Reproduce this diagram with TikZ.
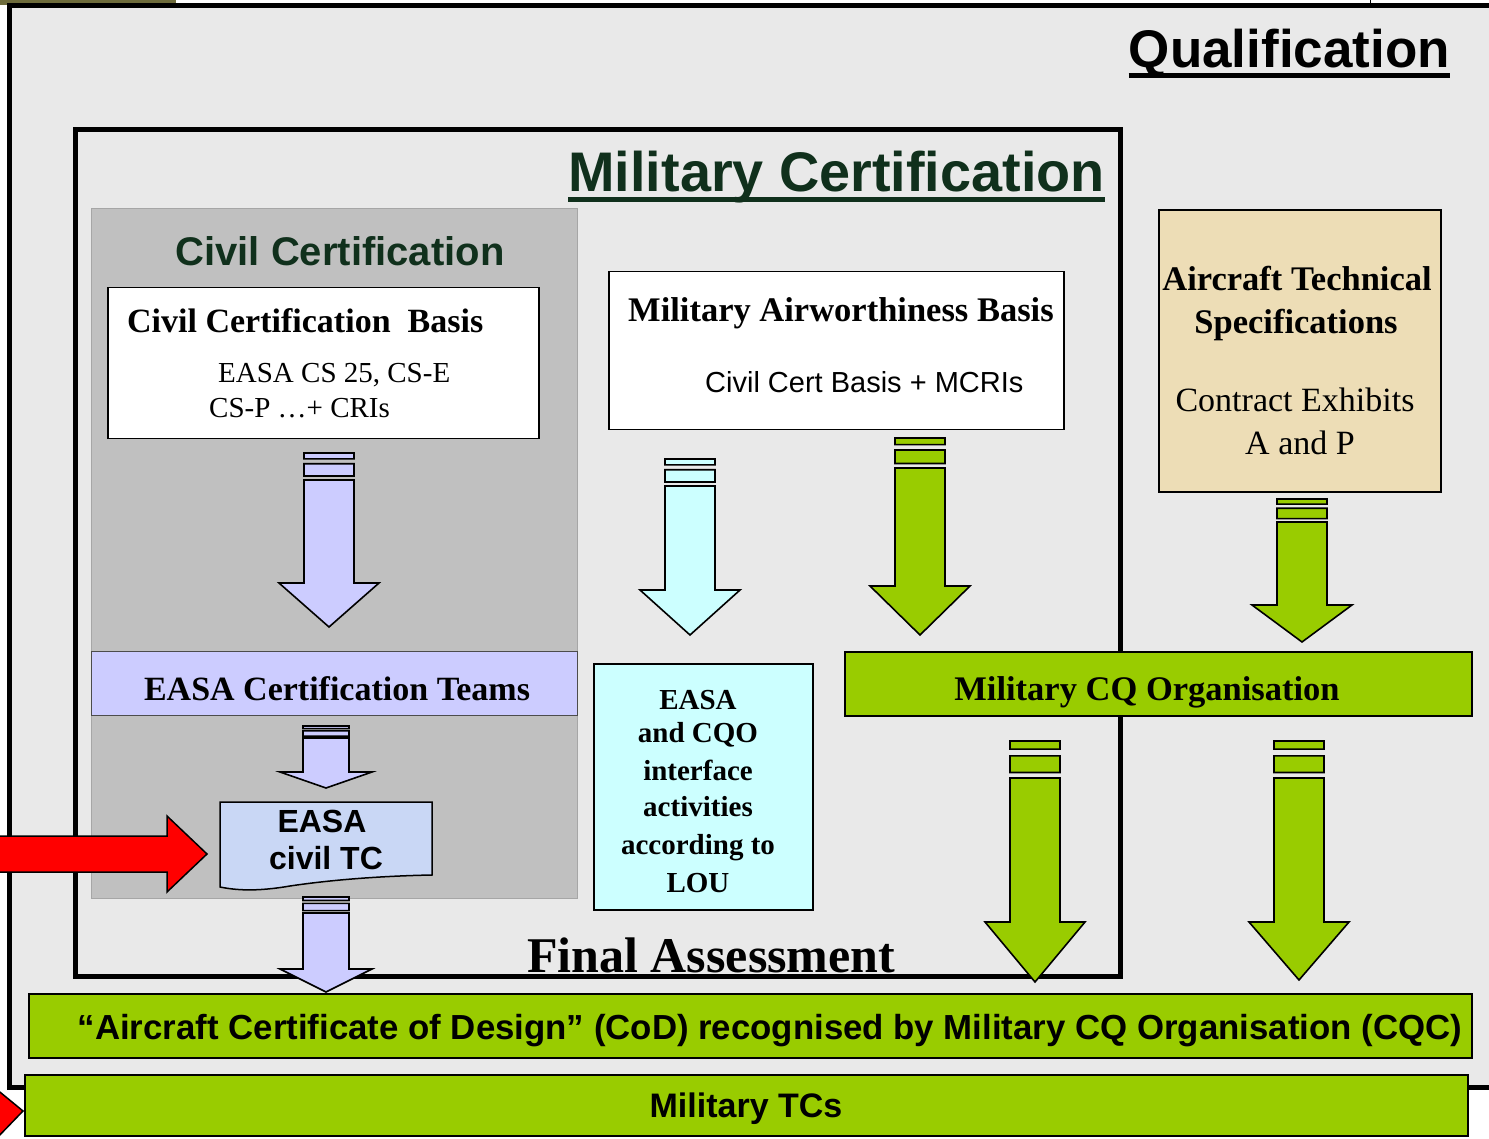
\documentclass[tikz,border=0pt]{standalone}
\usepackage{fontspec}
\setmainfont{Liberation Serif}
\setsansfont{Liberation Sans}

\definecolor{stone}{HTML}{E9E9E9}
\definecolor{panelgray}{HTML}{C0C0C0}
\definecolor{lavender}{HTML}{CCCCFF}
\definecolor{paleaqua}{HTML}{CCFFFF}
\definecolor{leafgreen}{HTML}{99CC00}
\definecolor{parchment}{HTML}{EDDDB6}
\definecolor{tcblue}{HTML}{C9D7F5}
\definecolor{titlegreen}{HTML}{10301C}
\definecolor{olivebar}{HTML}{6E6C3C}

% fat arrow with two bars on top: colour, x, half shaft width, y top, y shaft, y head, y tip
\newcommand{\fatarrow}[7]{%
	\filldraw[fill=#1,draw=black,line width=1.6pt]
		(#2-#3,#4) rectangle (#2+#3,{#4+0.22*(#5-#4)})
		(#2-#3,{#4+0.40*(#5-#4)}) rectangle (#2+#3,{#4+0.85*(#5-#4)})
		(#2-#3,#5) -- (#2-#3,#6) -- (#2-2*#3,#6) -- (#2,#7) -- (#2+2*#3,#6) -- (#2+#3,#6) -- (#2+#3,#5) -- cycle;
}

\begin{document}
\begin{tikzpicture}[x=1pt,y=-1pt,
		box/.style={draw=black,line width=1.5pt,inner sep=0pt,anchor=north west},
		frame/.style={draw=black,line width=5pt},
		serifhead/.style={font=\fontsize{34.5}{42}\selectfont\bfseries,inner sep=0pt},
		seriftext/.style={font=\fontsize{34}{40}\selectfont,inner sep=0pt},
		sanshead/.style={font=\fontsize{34}{40}\selectfont\sffamily\bfseries,inner sep=0pt},
		bigtitle/.style={font=\fontsize{55}{60}\selectfont\sffamily\bfseries,inner sep=0pt}]
	\useasboundingbox (0,0) rectangle (1489,1139);

	% stone background and outer frame
	\fill[olivebar] (0,0) rectangle (176,5);
	\draw (1370,0) -- (1370,5);
	\filldraw[fill=stone,frame] (9.5,5.5) rectangle (1510,1087);
	\node[bigtitle,font=\fontsize{53}{60}\selectfont\sffamily\bfseries,anchor=base east] (qual) at (1450,68) {Qualification};
	\draw[line width=4.5pt] ([yshift=-7.5pt]qual.base west) -- ([yshift=-7.5pt]qual.base east);

	% military certification frame
	\draw[frame] (75.5,129.5) rectangle (1120,976);
	\node[bigtitle,font=\fontsize{55.8}{60}\selectfont\sffamily\bfseries,text=titlegreen,anchor=base east] (milcert) at (1105,192) {Military Certification};
	\draw[titlegreen,line width=4.5pt] ([yshift=-7.5pt]milcert.base west) -- ([yshift=-7.5pt]milcert.base east);

	% civil side
	\node[box,draw=gray!70,line width=1pt,fill=panelgray,minimum width=486,minimum height=690] (civpanel) at (91,208) {};
	\node[font=\fontsize{40}{46}\selectfont\sffamily\bfseries,text=titlegreen,inner sep=0pt,anchor=base] (civtitle) at (340,266) {Civil Certification};
	\node[box,fill=white,minimum width=431,minimum height=151] (civbasis) at (107,287) {};
	\node[serifhead,font=\fontsize{34}{42}\selectfont\bfseries,anchor=base west] (civbasistitle) at (127,333) {Civil Certification\ \ Basis};
	\node[seriftext,font=\fontsize{29}{34}\selectfont,anchor=base west] (civcs1) at (218,383) {EASA CS 25, CS-E};
	\node[seriftext,font=\fontsize{29}{34}\selectfont,anchor=base west] (civcs2) at (209,418) {CS-P …+ CRIs};

	\node[box,draw=black!70,line width=1pt,fill=lavender,minimum width=486,minimum height=64] (teams) at (91,651) {};
	\node[serifhead,font=\fontsize{34}{40}\selectfont\bfseries,anchor=base] (teamstext) at (337,700) {EASA Certification Teams};

	\filldraw[fill=tcblue,draw=black,line width=1.5pt] (220,802) -- (432,802) -- (432,875)
		.. controls (380,876) and (330,880) .. (290,886)
		.. controls (255,892) and (235,890) .. (220,887) -- cycle;
	\node[sanshead,font=\fontsize{32}{38}\selectfont\sffamily\bfseries,anchor=base] (civtc1) at (322,832) {EASA};
	\node[sanshead,font=\fontsize{32}{38}\selectfont\sffamily\bfseries,anchor=base] (civtc2) at (326,869) {civil TC};

	% military side
	\node[box,fill=white,minimum width=455,minimum height=158] (milbasis) at (608,271) {};
	\node[serifhead,anchor=base west] (milbasistitle) at (628,322) {Military Airworthiness Basis};
	\node[font=\fontsize{29}{34}\selectfont\sffamily,inner sep=0pt,anchor=base west] (milbasistext) at (705,393) {Civil Cert Basis + MCRIs};

	\node[box,line width=2pt,fill=parchment,minimum width=282,minimum height=282] (ats) at (1158,209) {};
	\node[serifhead,anchor=base] (ats1) at (1297,291) {Aircraft Technical};
	\node[serifhead,anchor=base] (ats2) at (1296,334) {Specifications};
	\node[seriftext,anchor=base] (ats3) at (1295,412) {Contract Exhibits};
	\node[seriftext,anchor=base] (ats4) at (1300,454) {A and P};

	\node[box,fill=paleaqua,minimum width=219,minimum height=246] (lou) at (593,663) {};
	\foreach \txt/\yy [count=\i] in {EASA/709, and CQO/742, interface/780, activities/816, according to/854, LOU/892}
		\node[font=\fontsize{29}{33}\selectfont\bfseries,inner sep=0pt,anchor=base] (lou\i) at (698,\yy) {\txt};

	\node[box,fill=leafgreen,minimum width=627,minimum height=64] (mcq) at (844,651) {};
	\node[serifhead,anchor=base] (mcqtext) at (1147,700) {Military CQ Organisation};

	\node[font=\fontsize{50}{56}\selectfont\bfseries,inner sep=0pt,anchor=base west] (final) at (527,972) {Final Assessment};

	% results
	\node[box,fill=leafgreen,minimum width=1443,minimum height=64] (cod) at (28,993) {};
	\node[sanshead,font=\fontsize{34.8}{40}\selectfont\sffamily\bfseries,anchor=base] (codtext) at (770,1039) {“Aircraft Certificate of Design” (CoD) recognised by Military CQ Organisation (CQC)};
	\node[box,fill=leafgreen,minimum width=1443,minimum height=61] (miltc) at (24,1074) {};
	\node[sanshead,anchor=base] (miltctext) at (746,1117) {Military TCs};

	% red pointers
	\filldraw[fill=red,draw=black,line width=1.5pt] (-5,836) -- (167,836) -- (167,816) -- (207,854) -- (167,892) -- (167,872) -- (-5,872) -- cycle;
	\filldraw[fill=red,draw=black,line width=1.5pt] (-5,1088) -- (23,1111) -- (-5,1140) -- cycle;

	% flow arrows
	\fatarrow{lavender}{329}{25}{453}{480}{583}{627}
	\fatarrow{lavender}{326}{23}{726}{738}{772}{788}
	\fatarrow{lavender}{326}{23}{897}{913}{969}{992}
	\fatarrow{paleaqua}{690}{25}{459}{486}{590}{635}
	\fatarrow{leafgreen}{920}{25}{438}{468}{586}{635}
	\fatarrow{leafgreen}{1302}{25}{499}{522}{605}{642}
	\fatarrow{leafgreen}{1035}{25}{741}{778}{922}{982}
	\fatarrow{leafgreen}{1299}{25}{741}{778}{922}{980}
\end{tikzpicture}
\end{document}
